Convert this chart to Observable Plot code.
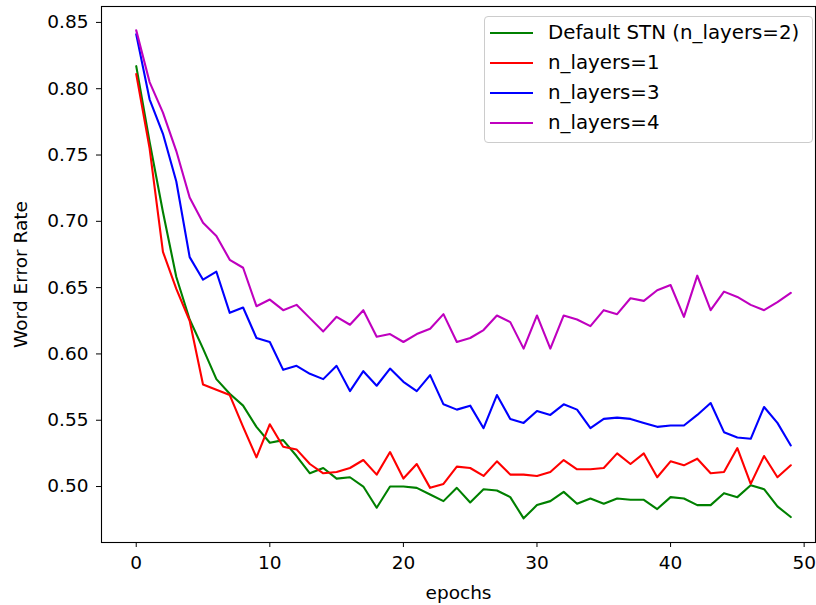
<!DOCTYPE html>
<html>
<head>
<meta charset="utf-8">
<script src="https://cdn.jsdelivr.net/npm/d3@7"></script>
<script src="https://cdn.jsdelivr.net/npm/@observablehq/plot@0.6"></script>
<style>
  html, body { margin: 0; padding: 0; background: #fff; }
  #wrap { position: relative; width: 816px; height: 605px; font-family: "DejaVu Sans", sans-serif; }
  #legend { position: absolute; left: 484px; top: 16px; width: 327px; height: 125px;
            border: 1px solid #cccccc; border-radius: 4px; background: rgba(255,255,255,0.8);
            font-size: 19.8px; color: #000; }
  .row { position: absolute; left: 0; height: 30px; display: flex; align-items: center; }
  .swatch { position: absolute; left: 5px; width: 43px; height: 0; border-top: 2px solid; }
  .lbl { position: absolute; left: 63px; white-space: nowrap; line-height: 1; }
</style>
</head>
<body>
<div id="wrap"></div>
<script>
const epochs = d3.range(50);

const seriesNames = ["Default STN (n_layers=2)", "n_layers=1", "n_layers=3", "n_layers=4"];
const seriesColors = ["#008000", "#ff0000", "#0000ff", "#bf00bf"];

const wer_default = [0.817, 0.760, 0.707, 0.658, 0.626, 0.604, 0.581, 0.570, 0.561, 0.545,
  0.533, 0.535, 0.523, 0.510, 0.514, 0.506, 0.507, 0.500, 0.484, 0.500,
  0.500, 0.499, 0.494, 0.489, 0.499, 0.488, 0.498, 0.497, 0.492, 0.476,
  0.486, 0.489, 0.496, 0.487, 0.491, 0.487, 0.491, 0.490, 0.490, 0.483,
  0.492, 0.491, 0.486, 0.486, 0.495, 0.492, 0.501, 0.498, 0.485, 0.477];

const wer_layers1 = [0.811, 0.755, 0.677, 0.649, 0.625, 0.577, 0.573, 0.569, 0.545, 0.522,
  0.547, 0.530, 0.528, 0.517, 0.510, 0.511, 0.514, 0.520, 0.509, 0.526,
  0.506, 0.517, 0.499, 0.502, 0.515, 0.514, 0.508, 0.519, 0.509, 0.509,
  0.508, 0.511, 0.520, 0.513, 0.513, 0.514, 0.525, 0.517, 0.525, 0.507,
  0.519, 0.516, 0.521, 0.510, 0.511, 0.529, 0.502, 0.523, 0.507, 0.516];

const wer_layers3 = [0.841, 0.792, 0.766, 0.730, 0.673, 0.656, 0.662, 0.631, 0.635, 0.612,
  0.609, 0.588, 0.591, 0.585, 0.581, 0.591, 0.572, 0.587, 0.576, 0.589,
  0.579, 0.572, 0.584, 0.562, 0.558, 0.561, 0.544, 0.569, 0.551, 0.548,
  0.557, 0.554, 0.562, 0.558, 0.544, 0.551, 0.552, 0.551, 0.548, 0.545,
  0.546, 0.546, 0.554, 0.563, 0.541, 0.537, 0.536, 0.560, 0.548, 0.531];

const wer_layers4 = [0.844, 0.805, 0.782, 0.753, 0.718, 0.699, 0.689, 0.671, 0.665, 0.636,
  0.641, 0.633, 0.637, 0.627, 0.617, 0.628, 0.622, 0.633, 0.613, 0.615,
  0.609, 0.615, 0.619, 0.630, 0.609, 0.612, 0.618, 0.629, 0.624, 0.604,
  0.629, 0.604, 0.629, 0.626, 0.621, 0.633, 0.630, 0.642, 0.640, 0.648,
  0.652, 0.628, 0.659, 0.633, 0.647, 0.643, 0.637, 0.633, 0.639, 0.646];

const xTicks = [0, 10, 20, 30, 40, 50];
const yTicks = [0.50, 0.55, 0.60, 0.65, 0.70, 0.75, 0.80, 0.85];
const xLabel = "epochs";
const yLabel = "Word Error Rate";

const allSeries = [wer_default, wer_layers1, wer_layers3, wer_layers4];
const rows = [];
allSeries.forEach((vals, si) => {
  vals.forEach((v, i) => rows.push({epoch: epochs[i], wer: v, series: seriesNames[si]}));
});

const chart = Plot.plot({
  width: 816,
  height: 605,
  marginLeft: 101,
  marginRight: 1,
  marginTop: 6,
  marginBottom: 63,
  style: {fontFamily: "DejaVu Sans, sans-serif", fontSize: "18.5px", color: "#000", background: "#fff"},
  x: {domain: [-2.6, 50.85], label: null},
  y: {domain: [0.4578, 0.862], label: null},
  color: {domain: seriesNames, range: seriesColors},
  marks: [
    Plot.line(rows, {x: "epoch", y: "wer", z: "series", stroke: "series", strokeWidth: 2.1}),
    Plot.frame({stroke: "#000", strokeWidth: 1.1}),
    Plot.axisX({ticks: xTicks, tickSize: 5, tickPadding: 8, tickFormat: d3.format("d"),
      label: xLabel, labelAnchor: "center", labelArrow: "none", labelOffset: 56}),
    Plot.axisY({ticks: yTicks, tickSize: 5, tickPadding: 8, tickFormat: d3.format(".2f"),
      label: yLabel, labelAnchor: "center", labelArrow: "none", labelOffset: 88})
  ]
});

const wrap = document.getElementById("wrap");
wrap.appendChild(chart);

const legend = document.createElement("div");
legend.id = "legend";
seriesNames.forEach((name, i) => {
  const row = document.createElement("div");
  row.className = "row";
  row.style.top = (1 + i * 30) + "px";
  row.style.width = "100%";
  const sw = document.createElement("div");
  sw.className = "swatch";
  sw.style.borderTopColor = seriesColors[i];
  const lb = document.createElement("div");
  lb.className = "lbl";
  lb.textContent = name;
  row.appendChild(sw);
  row.appendChild(lb);
  legend.appendChild(row);
});
wrap.appendChild(legend);
</script>
</body>
</html>
